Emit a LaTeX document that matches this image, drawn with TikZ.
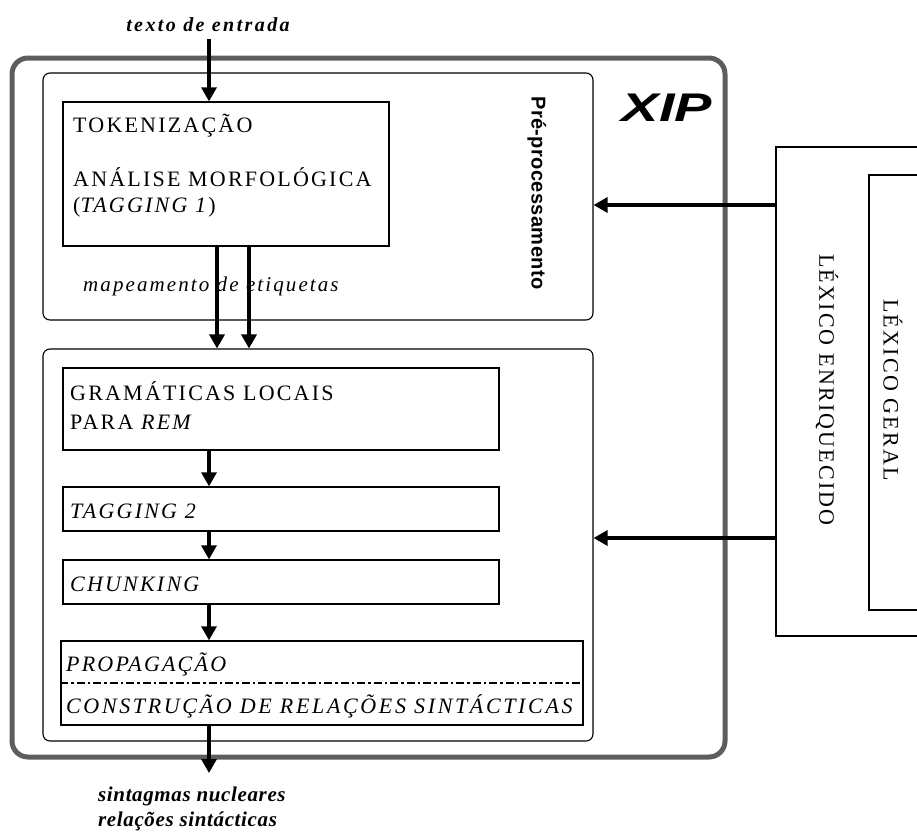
\documentclass[tikz,border=0pt]{standalone}
\usepackage{fontspec}
\setmainfont{Liberation Serif}
\newfontfamily\sansfam{Liberation Sans}
\newfontfamily\spaced[LetterSpace=10]{Liberation Serif}
\newfontfamily\spacedw[LetterSpace=12]{Liberation Serif}
\newfontfamily\lblfam[LetterSpace=12]{Liberation Serif}
\newfontfamily\outfam[LetterSpace=3]{Liberation Serif}
\newfontfamily\presans[LetterSpace=2]{Liberation Sans}
\usetikzlibrary{arrows.meta,calc}
\definecolor{xipgray}{HTML}{5A5F5A}
\tikzset{
  box/.style={draw, line width=1.3pt, inner sep=0pt},
  rbox/.style={draw, line width=1.1pt, rounded corners=7pt, inner sep=0pt},
  arr/.style={line width=3.2pt, -{Triangle[width=15pt,length=14pt]}},
  btxt/.style={anchor=west, inner sep=0pt, font=\fontsize{22}{24}\selectfont\spaced},
  lbl/.style={inner sep=0pt, font=\fontsize{20}{24}\selectfont\lblfam\bfseries\itshape}
}
\begin{document}
\begin{tikzpicture}[x=1pt,y=-1pt]
\useasboundingbox (0,0) rectangle (917,835);
% outer XIP box
\node[draw=xipgray, line width=5pt, rounded corners=16pt, minimum width=713pt, minimum height=699pt, inner sep=0pt] (xip) at (368.5,407.5) {};
\node[inner sep=0pt, font=\fontsize{40}{40}\selectfont\sansfam\bfseries\itshape] (xiplbl) at (667,108) {\scalebox{1.4}[1]{XIP}};
% pre-processing
\node[rbox, minimum width=550pt, minimum height=247pt] (pre) at (318,196.5) {};
\node[inner sep=0pt, rotate=-90, font=\fontsize{20}{20}\selectfont\presans\bfseries] (prelbl) at (537,193) {Pré-processamento};
\node[box, minimum width=326pt, minimum height=144pt] (tok) at (226,174) {};
\node[btxt] (t1) at (73,126) {TOKENIZAÇÃO};
\node[btxt] (t2) at (73,177) {ANÁLISE MORFOLÓGICA};
\node[btxt] (t3) at (73,207) {(\textit{TAGGING 1})};
\node[anchor=west, inner sep=0pt, font=\fontsize{21}{22}\selectfont\spaced\itshape] (map) at (83,286) {mapeamento de etiquetas};
% main processing
\node[rbox, minimum width=550pt, minimum height=392pt] (main) at (318,545) {};
\node[box, minimum width=436pt, minimum height=82pt] (gram) at (281,409) {};
\node[btxt] (g1) at (70,391) {GRAMÁTICAS LOCAIS};
\node[btxt] (g2) at (70,422) {PARA \textit{REM}};
\node[box, minimum width=436pt, minimum height=44pt] (tag) at (281,509) {};
\node[btxt] (tagt) at (70,511) {\textit{TAGGING 2}};
\node[box, minimum width=436pt, minimum height=44pt] (chunk) at (281,582) {};
\node[btxt] (chunkt) at (70,584) {\textit{CHUNKING}};
\node[box, minimum width=522pt, minimum height=84pt] (prop) at (322,683) {};
\node[btxt] (propt) at (66,664) {\textit{PROPAGAÇÃO}};
\node[btxt, font=\fontsize{22}{24}\selectfont\spacedw] (const) at (66,706) {\textit{CONSTRUÇÃO DE RELAÇÕES SINTÁCTICAS}};
\draw[line width=2.2pt, dash pattern=on 8pt off 3pt on 2.5pt off 3pt] (prop.west) -- (prop.east);
% lexicons
\node[box, minimum width=164pt, minimum height=489pt] (lexe) at (858,391.5) {};
\node[inner sep=0pt, rotate=-90, font=\fontsize{22}{22}\selectfont\spaced] (lexet) at (827,390) {LÉXICO ENRIQUECIDO};
\node[box, minimum width=71pt, minimum height=435pt] (lexg) at (904.5,392.5) {};
\node[inner sep=0pt, rotate=-90, font=\fontsize{22}{22}\selectfont\spaced] (lexgt) at (893,390) {LÉXICO GERAL};
% labels
\node[lbl] (in) at (208,25) {texto de entrada};
\node[anchor=west, inner sep=0pt, align=left, font=\fontsize{21}{25}\selectfont\outfam\bfseries\itshape] (out) at (98,809) {sintagmas nucleares\\relações sintácticas};
\coordinate (outend) at (209,773);
% arrows
\draw[arr] ([yshift=-7pt]in.south -| tok.north) ++(-17,0) -- ([xshift=-17pt]tok.north);
\draw[arr] ([xshift=-9pt]tok.south) -- ([xshift=-9pt]tok.south |- main.north);
\draw[arr] ([xshift=23pt]tok.south) -- ([xshift=23pt]tok.south |- main.north);
\draw[arr] ([xshift=-72pt]gram.south) -- ([xshift=-72pt]tag.north);
\draw[arr] ([xshift=-72pt]tag.south) -- ([xshift=-72pt]chunk.north);
\draw[arr] ([xshift=-72pt]chunk.south) -- ([xshift=-113pt]prop.north);
\draw[arr] ([xshift=-113pt]prop.south) -- (outend);
\draw[arr] (lexe.west |- 0,205) -- (pre.east |- 0,205);
\draw[arr] (lexe.west |- 0,538) -- (main.east |- 0,538);
\end{tikzpicture}
\end{document}
